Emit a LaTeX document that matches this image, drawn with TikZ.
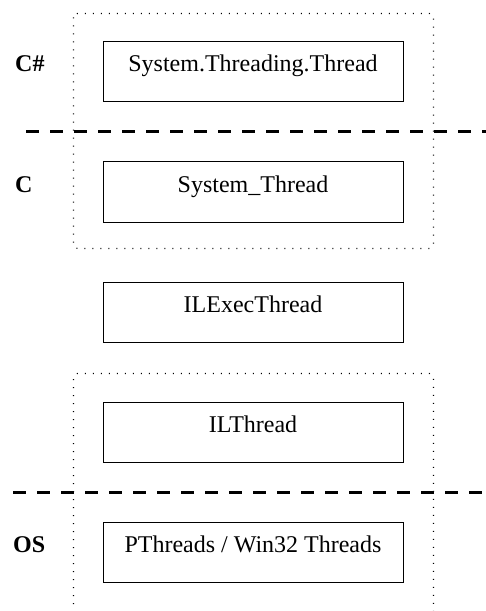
\documentclass[tikz,border=0pt]{standalone}
\usepackage{fontspec}
\setmainfont{Liberation Serif}
\begin{document}
\begin{tikzpicture}[x=1bp,y=-1bp,
  layerbox/.style={draw, line width=1bp, rectangle, inner sep=0pt,
    minimum width=300bp, text height=30bp, text depth=30bp,
    font=\fontsize{24bp}{28bp}\selectfont},
  layerlabel/.style={anchor=base west, inner sep=0pt,
    font=\fontsize{24bp}{28bp}\selectfont\bfseries},
  groupline/.style={line width=1.1bp, dash pattern=on 1bp off 7bp, rounded corners=4bp},
  divider/.style={line width=3bp, dash pattern=on 12.5bp off 11.5bp}]
\useasboundingbox (0,0) rectangle (486,611);

% thread layers
\node[layerbox] (csharp) at (253,72) {System.Threading.Thread};
\node[layerbox] (cthread) at (253,192) {System\_Thread};
\node[layerbox] (exec) at (253,312) {ILExecThread};
\node[layerbox] (ilthread) at (253,432) {ILThread};
\node[layerbox] (os) at (253,552) {PThreads / Win32 Threads};

% language levels
\node[layerlabel] (lcs) at (15,72) {C\#};
\node[layerlabel] (lc) at (15,192) {C};
\node[layerlabel] (los) at (13,552) {OS};

% level separators
\coordinate (d1a) at (26,132);
\coordinate (d1b) at (490,132);
\coordinate (d2a) at (13,492.5);
\coordinate (d2b) at (482,492.5);
\draw[divider] (d1a) -- (d1b);
\draw[divider] (d2a) -- (d2b);

% groupings
\draw[groupline] (73.5,13.5) rectangle (433.5,248.5);
\draw[groupline] (73.5,612) -- (73.5,373.5) -- (433.5,373.5) -- (433.5,612);
\end{tikzpicture}
\end{document}
